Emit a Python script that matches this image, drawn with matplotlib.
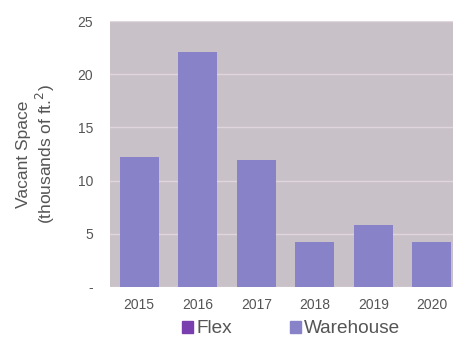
import matplotlib
matplotlib.use("Agg")
import matplotlib.pyplot as plt
from matplotlib.patches import Patch

plt.rcParams['font.family'] = ['Liberation Sans', 'DejaVu Sans']

years = ["2015", "2016", "2017", "2018", "2019", "2020"]
flex = [0, 0, 0, 0, 0, 0]
warehouse = [12.25, 22.05, 11.95, 4.2, 5.85, 4.2]
yticks = [0, 5, 10, 15, 20, 25]
ytick_labels = ["-", "5", "10", "15", "20", "25"]

flex_color = "#7a3fae"
wh_color = "#8883c8"
bg = "#c9c1c8"
txt = "#555555"

fig = plt.figure(figsize=(4.53, 3.39), dpi=100)
ax = fig.add_axes([0.2428, 0.1534, 0.775, 0.7846])
ax.set_facecolor(bg)
x = range(len(years))
ax.bar(x, flex, width=0.66, color=flex_color, zorder=3)
ax.bar(x, warehouse, bottom=flex, width=0.66, color=wh_color, zorder=3)
ax.set_xlim(-0.5, len(years) - 0.5)
ax.set_ylim(0, 25)
ax.set_yticks(yticks)
ax.set_yticklabels(ytick_labels)
ax.set_xticks(list(x))
ax.set_xticklabels(years)
ax.grid(axis='y', color="#ded6da", linewidth=1, zorder=1)
for s in ax.spines.values():
    s.set_visible(False)
ax.tick_params(length=0, labelsize=10, colors=txt, pad=8)
ax.tick_params(axis='y', pad=12)
ax.set_ylabel("Vacant Space\n(thousands of ft.$^2$)", fontsize=12.5, color=txt,
              labelpad=15, linespacing=1.15)

handles = [Patch(color=flex_color, label="Flex"), Patch(color=wh_color, label="Warehouse")]
fig.legend(handles=handles, loc="center", bbox_to_anchor=(0.643, 0.03), ncol=2,
           frameon=False, fontsize=13.7, handlelength=0.58, handleheight=0.58,
           handletextpad=0.2, columnspacing=3.0, labelcolor=txt,
           borderpad=0, borderaxespad=0)

fig.savefig("out.png", dpi=100)
